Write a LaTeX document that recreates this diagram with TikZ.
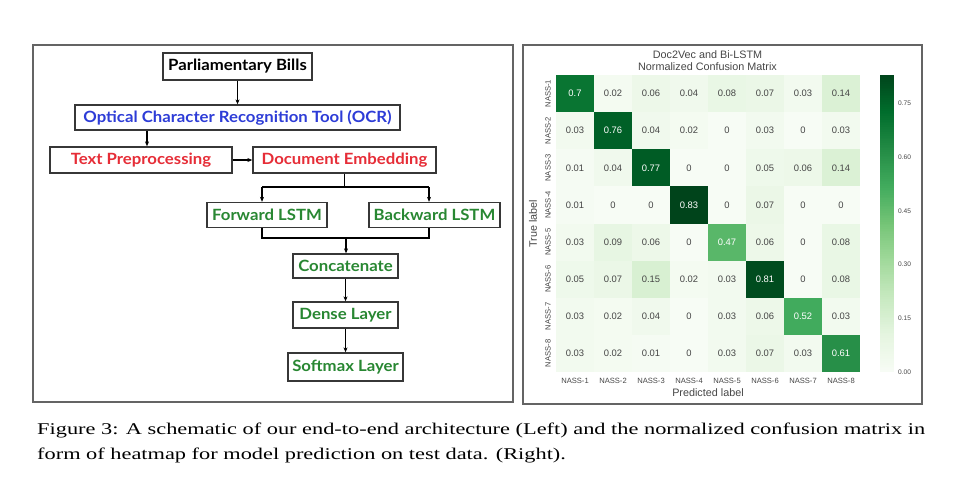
\documentclass[tikz,border=0pt]{standalone}
\usepackage{fontspec}
\setmainfont{Liberation Serif}
\newfontfamily\boxfont{Lato}
\newfontfamily\plotfont{Liberation Sans}
\usetikzlibrary{arrows.meta,calc}
\definecolor{ocrblue}{RGB}{45,60,215}
\definecolor{prered}{RGB}{230,45,55}
\definecolor{lstmgreen}{RGB}{40,135,50}
\definecolor{framegray}{RGB}{100,100,100}
\definecolor{boxgray}{RGB}{55,55,55}
\definecolor{annotgray}{RGB}{70,70,70}
\definecolor{labelgray}{RGB}{70,70,70}
\definecolor{G0}{RGB}{247,252,245}
\definecolor{G1}{RGB}{229,245,224}
\definecolor{G2}{RGB}{199,233,192}
\definecolor{G3}{RGB}{161,217,155}
\definecolor{G4}{RGB}{116,196,118}
\definecolor{G5}{RGB}{65,171,93}
\definecolor{G6}{RGB}{35,139,69}
\definecolor{G7}{RGB}{0,109,44}
\definecolor{G8}{RGB}{0,68,27}
\newcommand\hmcolor[1]{%
  \pgfmathsetmacro\hmT{min(#1/0.83*8,7.9999)}%
  \pgfmathtruncatemacro\hmK{floor(\hmT)}%
  \pgfmathtruncatemacro\hmN{\hmK+1}%
  \pgfmathsetmacro\hmP{100*(1-(\hmT-\hmK))}%
  \colorlet{hmc}{G\hmK!\hmP!G\hmN}}
\newcommand\bxt[1]{\scalebox{1.08}[1]{#1}}
\newlength\caplen
\newcommand\capone{Figure 3: A schematic of our end-to-end architecture (Left) and the normalized confusion matrix in}
\tikzset{
  archbox/.style={draw=boxgray, line width=1.3pt, fill=white, inner sep=0pt,
    font=\boxfont\bfseries\fontsize{15.5}{17}\selectfont},
  arr/.style={draw=black, line width=1.1pt, -{Stealth[length=5pt,width=4pt]}},
  link/.style={draw=black, line width=1.1pt},
  panel/.style={draw=framegray, line width=2.6pt},
  ticklab/.style={font=\plotfont\fontsize{7.6}{9}\selectfont, text=labelgray, inner sep=0pt},
  axlab/.style={font=\plotfont\fontsize{10.8}{12}\selectfont, text=labelgray, inner sep=0pt},
  annot/.style={font=\plotfont\fontsize{9.4}{10}\selectfont, inner sep=0pt},
  capline/.style={anchor=base west, inner sep=0pt, font=\fontsize{16.4}{18}\selectfont}
}
\begin{document}
\begin{tikzpicture}[x=1pt,y=-1pt]
\fill[white] (0,0) rectangle (960,480);
\useasboundingbox (0,0) rectangle (960,480);
% panels
\draw[panel] (33,45) rectangle (513,402);
\draw[panel] (523,45) rectangle (922,404);
% ---------- architecture ----------
\node[archbox, minimum width=149pt, minimum height=27pt] (pb) at (237.5,66.5) {\bxt{Parliamentary Bills}};
\node[archbox, minimum width=325pt, minimum height=25pt, text=ocrblue] (ocr) at (237.5,117.5) {\bxt{Optical Character Recognition Tool (OCR)}};
\node[archbox, minimum width=182pt, minimum height=26pt, text=prered] (tp) at (141,160) {\bxt{Text Preprocessing}};
\node[archbox, minimum width=183pt, minimum height=26pt, text=prered] (de) at (344.5,160) {\bxt{Document Embedding}};
\node[archbox, minimum width=120pt, minimum height=25pt, text=lstmgreen] (fl) at (267,215) {\bxt{Forward LSTM}};
\node[archbox, minimum width=131pt, minimum height=25pt, text=lstmgreen] (bl) at (434.5,215) {\bxt{Backward LSTM}};
\node[archbox, minimum width=105pt, minimum height=24pt, text=lstmgreen] (cc) at (345.5,266) {\bxt{Concatenate}};
\node[archbox, minimum width=105pt, minimum height=26pt, text=lstmgreen] (dl) at (345.5,315) {\bxt{Dense Layer}};
\node[archbox, minimum width=115pt, minimum height=28pt, text=lstmgreen] (sl) at (345.5,367) {\bxt{Softmax Layer}};
\coordinate (ocrL) at (147,0);
\coordinate (fa) at (262,187);
\coordinate (ba) at (429,187);
\coordinate (fm) at (262,238);
\coordinate (bm) at (429,238);
\coordinate (mm) at (346,238);
\draw[arr] (pb) -- (ocr);
\draw[arr] (ocr.south -| ocrL) -- (tp.north -| ocrL);
\draw[arr] (tp) -- (de);
\draw[link] (de.south) -- (de.south |- fa);
\draw[link] (fa) -- (ba);
\draw[arr] (fa) -- (fl.north -| fa);
\draw[arr] (ba) -- (bl.north -| ba);
\draw[link] (fl.south -| fm) -- (fm) -- (bm) -- (bl.south -| bm);
\draw[arr] (mm) -- (cc.north -| mm);
\draw[arr] (cc) -- (dl);
\draw[arr] (dl) -- (sl);
% ---------- heatmap ----------
\node[axlab, align=center] (title) at (707.5,61) {Doc2Vec and Bi-LSTM\\Normalized Confusion Matrix};
\foreach \row [count=\r] in {
  {0.7,0.02,0.06,0.04,0.08,0.07,0.03,0.14},
  {0.03,0.76,0.04,0.02,0,0.03,0,0.03},
  {0.01,0.04,0.77,0,0,0.05,0.06,0.14},
  {0.01,0,0,0.83,0,0.07,0,0},
  {0.03,0.09,0.06,0,0.47,0.06,0,0.08},
  {0.05,0.07,0.15,0.02,0.03,0.81,0,0.08},
  {0.03,0.02,0.04,0,0.03,0.06,0.52,0.03},
  {0.03,0.02,0.01,0,0.03,0.07,0.03,0.61}} {
  \foreach \v [count=\c] in \row {
    \hmcolor{\v}
    \pgfmathsetmacro\cx{556+(\c-1)*38}
    \pgfmathsetmacro\cy{75+(\r-1)*37.125}
    \fill[hmc] (\cx,\cy) rectangle ++(38.3,37.4);
    \ifdim\v pt>0.4pt \colorlet{hmt}{white}\else\colorlet{hmt}{annotgray}\fi
    \node[annot, text=hmt] (c\r-\c) at (\cx+19,\cy+18.56) {\v};
  }
}
\foreach \k in {1,...,8} {
  \node[ticklab] (xt\k) at (556+19+38*\k-38,381) {NASS-\k};
  \node[ticklab, rotate=90] (yt\k) at (548,75+18.56+37.125*\k-37.125) {NASS-\k};
}
\node[axlab] (xl) at (708,392.5) {Predicted label};
\node[axlab, rotate=90] (yl) at (533,223.5) {True label};
% colorbar
\foreach \i in {0,...,165} {
  \pgfmathsetmacro\cv{(\i+0.5)/166*0.83}
  \hmcolor{\cv}
  \pgfmathsetmacro\ya{372-(\i+1)*1.78916-0.3}
  \pgfmathsetmacro\yb{372-\i*1.78916}
  \fill[hmc] (880,\ya) rectangle (894,\yb);
}
\foreach \t/\lab [count=\n] in {0/0.00,0.15/0.15,0.3/0.30,0.45/0.45,0.6/0.60,0.75/0.75} {
  \pgfmathsetmacro\ty{372-\t*357.831}
  \node[ticklab, anchor=west, font=\plotfont\fontsize{6.6}{8}\selectfont] (cb\n) at (898,\ty) {\lab};
}
% ---------- caption ----------
\node[capline] (cap1) at (37,434) {\settowidth{\caplen}{\capone}\pgfmathsetmacro\capsx{888/\caplen}\xdef\capsxg{\capsx}\scalebox{\capsxg}[1]{\capone}};
\node[capline] (cap2) at (37,459) {\scalebox{\capsxg}[1]{form of heatmap for model prediction on test data. (Right).}};
\end{tikzpicture}
\end{document}
